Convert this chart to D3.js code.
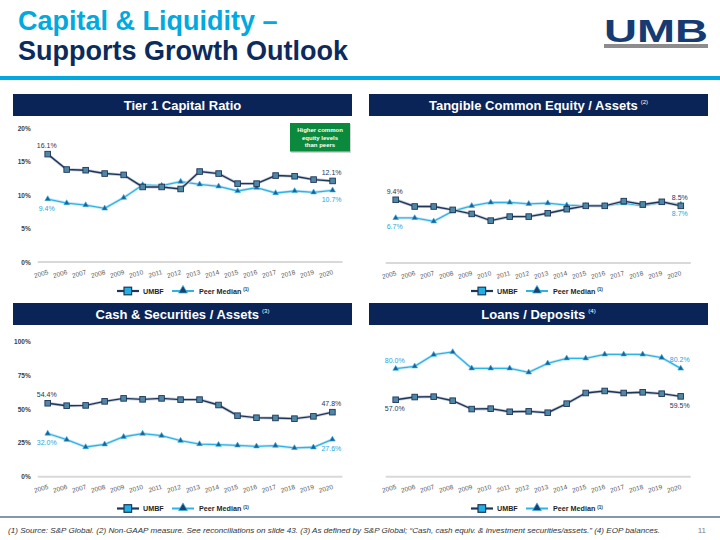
<!DOCTYPE html>
<html>
<head>
<meta charset="utf-8">
<script src="https://cdn.jsdelivr.net/npm/d3@7"></script>
<style>
  body { margin: 0; background: #fff; }
  svg { display: block; font-family: "Liberation Sans", Arial, sans-serif; }
</style>
</head>
<body>
<svg id="slide" width="720" height="540"></svg>
<script>
// data
const years = ["2005", "2006", "2007", "2008", "2009", "2010", "2011", "2012",
  "2013", "2014", "2015", "2016", "2017", "2018", "2019", "2020"];

const tier1Umbf = [16.1, 13.8, 13.7, 13.2, 13.0, 11.2, 11.2, 10.9, 13.5, 13.2, 11.7, 11.7, 12.9, 12.8, 12.3, 12.1];
const tier1Peer = [9.4, 8.8, 8.5, 8.0, 9.6, 11.5, 11.4, 12.0, 11.6, 11.3, 10.6, 11.1, 10.3, 10.6, 10.4, 10.7];

const tceUmbf = [9.4, 8.4, 8.4, 7.9, 7.3, 6.3, 6.9, 6.9, 7.4, 8.0, 8.5, 8.5, 9.2, 8.7, 9.1, 8.5];
const tcePeer = [6.7, 6.7, 6.2, 7.7, 8.5, 9.0, 9.0, 8.8, 8.9, 8.6, 8.5, 8.5, 8.9, 8.5, 9.0, 8.7];

const cashUmbf = [54.4, 52.6, 52.8, 55.8, 58.0, 57.3, 58.0, 57.1, 57.1, 53.1, 45.2, 43.7, 43.5, 43.0, 44.7, 47.8];
const cashPeer = [32.0, 27.4, 22.0, 24.0, 29.6, 31.9, 30.4, 26.7, 24.2, 23.7, 23.2, 22.5, 23.0, 21.3, 21.8, 27.6];

const loansUmbf = [57.0, 59.0, 59.3, 56.3, 50.1, 50.4, 48.1, 48.4, 47.4, 54.1, 62.0, 63.5, 62.0, 62.5, 61.5, 59.5];
const loansPeer = [80.0, 81.8, 90.4, 92.4, 80.3, 80.3, 80.3, 77.3, 84.0, 87.7, 87.7, 90.6, 90.6, 90.6, 88.2, 80.2];

const smallTicks = [0, 5, 10, 15, 20];
const bigTicks = [0, 25, 50, 75, 100];

const footnote = "(1) Source: S&P Global. (2) Non-GAAP measure. See reconciliations on slide 43. (3) As defined by S&P Global; \u201cCash, cash equiv. & investment securities/assets.\u201d (4) EOP balances.";

const navy = "#0b2457";
const cyan = "#00a9e0";
const lineNavy = "#1f3558";
const lineCyan = "#2db4e6";

const svg = d3.select("#slide");

// title block
svg.append("text")
  .attr("x", 18).attr("y", 30)
  .attr("fill", cyan)
  .style("font-size", "27px").style("font-weight", "bold")
  .text("Capital & Liquidity \u2013");
svg.append("text")
  .attr("x", 18).attr("y", 60)
  .attr("fill", "#0c2a5c")
  .style("font-size", "27px").style("font-weight", "bold")
  .text("Supports Growth Outlook");

// logo
svg.append("text")
  .attr("x", 656).attr("y", 42)
  .attr("text-anchor", "middle")
  .attr("fill", "#163b73")
  .style("font-size", "32px").style("font-weight", "900")
  .attr("textLength", 104).attr("lengthAdjust", "spacingAndGlyphs")
  .text("UMB");
svg.append("rect")
  .attr("x", 604).attr("y", 44).attr("width", 104).attr("height", 4)
  .attr("fill", "#8c8c8c");

svg.append("rect")
  .attr("x", 0).attr("y", 76).attr("width", 720).attr("height", 4)
  .attr("fill", cyan);

// footer
svg.append("line")
  .attr("x1", 0).attr("x2", 720).attr("y1", 517).attr("y2", 517)
  .attr("stroke", "#5d7390").attr("stroke-width", 1.5);
svg.append("text")
  .attr("x", 8).attr("y", 533)
  .attr("fill", "#333")
  .style("font-size", "8.1px").style("font-style", "italic")
  .text(footnote);
svg.append("text")
  .attr("x", 706).attr("y", 533)
  .attr("text-anchor", "end")
  .attr("fill", "#7f7f7f")
  .style("font-size", "8px")
  .text("11");

const fmt = v => d3.format(".1f")(v) + "%";

function panel(opt) {
  const g = svg.append("g");

  // header bar
  g.append("rect")
    .attr("x", opt.left).attr("y", opt.top)
    .attr("width", 339).attr("height", 22)
    .attr("fill", navy);
  const ht = g.append("text")
    .attr("x", opt.left + 169.5).attr("y", opt.top + 15.5)
    .attr("text-anchor", "middle")
    .attr("fill", "#fff")
    .style("font-size", "13px").style("font-weight", "bold")
    .text(opt.title);
  if (opt.note) {
    ht.append("tspan")
      .attr("dy", -6).attr("dx", 3)
      .style("font-size", "6px").style("font-weight", "normal")
      .text(opt.note);
  }

  const x = d3.scalePoint().domain(years).range(opt.xRange);
  const y = d3.scaleLinear().domain(opt.yDomain).range(opt.yRange);

  // baseline
  g.append("line")
    .attr("x1", opt.xRange[0] - 10).attr("x2", opt.xRange[1] + 10)
    .attr("y1", y(0)).attr("y2", y(0))
    .attr("stroke", "#d9d9d9").attr("stroke-width", 2);

  if (opt.ticks) {
    g.selectAll(".ytick")
      .data(opt.ticks)
      .enter()
      .append("text")
      .attr("x", opt.xRange[0] - 17)
      .attr("y", d => y(d) + 2.5)
      .attr("text-anchor", "end")
      .attr("fill", "#404040")
      .style("font-size", "6.5px").style("font-weight", "bold")
      .text(d => d + "%");
  }

  g.selectAll(".xtick")
    .data(years)
    .enter()
    .append("text")
    .attr("text-anchor", "end")
    .attr("transform", d => `translate(${x(d) + 1},${y(0) + 12}) rotate(-16)`)
    .attr("fill", "#595959")
    .style("font-size", "6.5px")
    .text(d => d);

  const line = d3.line().x((d, i) => x(years[i])).y(d => y(d));

  // peer series
  g.append("path")
    .attr("d", line(opt.peer))
    .attr("fill", "none")
    .attr("stroke", "#cfe9f5").attr("stroke-width", 3);
  g.append("path")
    .attr("d", line(opt.peer))
    .attr("fill", "none")
    .attr("stroke", lineCyan).attr("stroke-width", 1.3);

  // umbf series
  g.append("path")
    .attr("d", line(opt.umbf))
    .attr("fill", "none")
    .attr("stroke", "#c5cdd8").attr("stroke-width", 3);
  g.append("path")
    .attr("d", line(opt.umbf))
    .attr("fill", "none")
    .attr("stroke", lineNavy).attr("stroke-width", 1.4);

  const tri = d3.symbol().type(d3.symbolTriangle).size(14);
  g.selectAll(".peer")
    .data(opt.peer)
    .enter()
    .append("path")
    .attr("d", tri)
    .attr("transform", (d, i) => `translate(${x(years[i])},${y(d)})`)
    .attr("fill", "#1d5f96")
    .attr("stroke", lineCyan).attr("stroke-width", 0.6);

  g.selectAll(".umbf")
    .data(opt.umbf)
    .enter()
    .append("rect")
    .attr("x", (d, i) => x(years[i]) - 2.8)
    .attr("y", d => y(d) - 2.8)
    .attr("width", 5.6).attr("height", 5.6)
    .attr("fill", "#4f88a6")
    .attr("stroke", "#1f3558").attr("stroke-width", 0.9);

  // first / last value labels
  const labels = [
    { v: opt.umbf, pos: opt.umbfPos, color: "#1f3558" },
    { v: opt.peer, pos: opt.peerPos, color: "#1ea7dd" }
  ];
  labels.forEach(s => {
    [0, years.length - 1].forEach(i => {
      g.append("text")
        .attr("x", x(years[i]) - 1)
        .attr("y", y(s.v[i]) + (s.pos === "above" ? -6 : 11.5))
        .attr("text-anchor", "middle")
        .attr("fill", s.color)
        .style("font-size", "7px")
        .text(fmt(s.v[i]));
    });
  });

  // legend
  const lg = g.append("g").attr("transform", `translate(${opt.legendX},${opt.legendY})`);
  lg.append("line").attr("x1", 0).attr("x2", 22).attr("y1", 0).attr("y2", 0)
    .attr("stroke", lineNavy).attr("stroke-width", 2.2);
  lg.append("rect").attr("x", 7).attr("y", -3.8).attr("width", 7.6).attr("height", 7.6)
    .attr("fill", "#1fb0e6").attr("stroke", lineNavy).attr("stroke-width", 1.2);
  lg.append("text").attr("x", 26).attr("y", 2.5)
    .attr("fill", "#1f1f1f")
    .style("font-size", "7.2px").style("font-weight", "bold")
    .text("UMBF");
  lg.append("line").attr("x1", 55).attr("x2", 77).attr("y1", 0).attr("y2", 0)
    .attr("stroke", lineCyan).attr("stroke-width", 2);
  lg.append("path").attr("d", d3.symbol().type(d3.symbolTriangle).size(34))
    .attr("transform", "translate(66,-0.5)")
    .attr("fill", "#1f3f73").attr("stroke", lineCyan).attr("stroke-width", 0.7);
  const pt = lg.append("text").attr("x", 82).attr("y", 2.5)
    .attr("fill", "#1f1f1f")
    .style("font-size", "7.2px").style("font-weight", "bold")
    .text("Peer Median ");
  pt.append("tspan").attr("dy", -2.5)
    .style("font-size", "4.5px")
    .text("(1)");

  return g;
}

panel({
  left: 13, top: 94, title: "Tier 1 Capital Ratio",
  xRange: [47.7, 332.6], yDomain: [0, 20], yRange: [262, 128],
  ticks: smallTicks, umbf: tier1Umbf, peer: tier1Peer,
  umbfPos: "above", peerPos: "below",
  legendX: 117, legendY: 291
});

// callout in the first panel
const callout = svg.append("g");
callout.append("rect")
  .attr("x", 291).attr("y", 124).attr("width", 60).attr("height", 29)
  .attr("fill", "#b8b8b8").attr("opacity", 0.6);
callout.append("rect")
  .attr("x", 290).attr("y", 123).attr("width", 60).attr("height", 28.5)
  .attr("fill", "#0b8a3e");
["Higher common", "equity levels", "than peers"].forEach((t, i) => {
  callout.append("text")
    .attr("x", 320).attr("y", 132 + i * 7.5)
    .attr("text-anchor", "middle")
    .attr("fill", "#fff")
    .style("font-size", "6px").style("font-weight", "bold")
    .text(t);
});

panel({
  left: 369, top: 94, title: "Tangible Common Equity / Assets", note: "(2)",
  xRange: [395.7, 680.8], yDomain: [0, 20], yRange: [263, 128.5],
  ticks: null, umbf: tceUmbf, peer: tcePeer,
  umbfPos: "above", peerPos: "below",
  legendX: 471, legendY: 291
});

panel({
  left: 13, top: 303, title: "Cash & Securities / Assets", note: "(3)",
  xRange: [47.7, 332.4], yDomain: [0, 100], yRange: [476.7, 341.7],
  ticks: bigTicks, umbf: cashUmbf, peer: cashPeer,
  umbfPos: "above", peerPos: "below",
  legendX: 117, legendY: 508.5
});

panel({
  left: 369, top: 303, title: "Loans / Deposits", note: "(4)",
  xRange: [395.7, 680.7], yDomain: [0, 100], yRange: [476.7, 341.7],
  ticks: null, umbf: loansUmbf, peer: loansPeer,
  umbfPos: "below", peerPos: "above",
  legendX: 471, legendY: 508.5
});
</script>
</body>
</html>
